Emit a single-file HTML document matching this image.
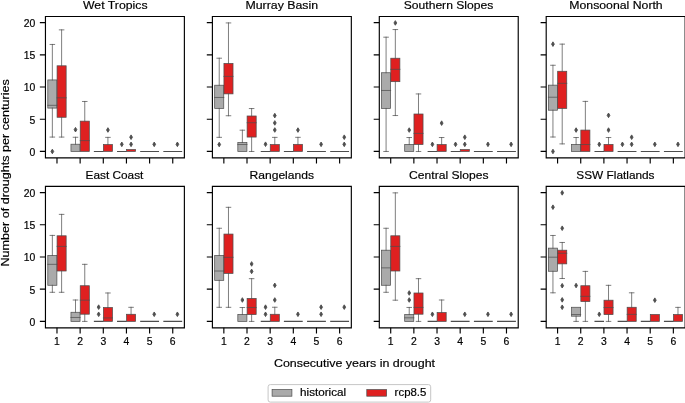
<!DOCTYPE html>
<html><head><meta charset="utf-8"><title>Droughts boxplots</title>
<style>html,body{margin:0;padding:0;background:#fff;}body{width:685px;height:403px;overflow:hidden;}svg{display:block;will-change:transform;font-family:"Liberation Sans",sans-serif;}</style>
</head><body>
<svg width="685" height="403" viewBox="0 0 685 403">
<rect x="0" y="0" width="685" height="403" fill="#fff"/>
<g><rect x="47.81" y="79.94" width="9.08" height="28.15" fill="#aaaaaa" stroke="#4d4d4d" stroke-width="0.72"/><path d="M52.35 149.17L53.73 151.47L52.35 153.77L50.97 151.47Z" fill="#4d4d4d" stroke="#4d4d4d" stroke-width="0.9"/><rect x="57.07" y="65.8" width="9.08" height="51.48" fill="#df2020" stroke="#4d4d4d" stroke-width="0.72"/><rect x="70.96" y="144.21" width="9.08" height="7.26" fill="#aaaaaa" stroke="#4d4d4d" stroke-width="0.72"/><path d="M75.5 127.38L76.88 129.68L75.5 131.98L74.12 129.68Z" fill="#4d4d4d" stroke="#4d4d4d" stroke-width="0.9"/><rect x="80.23" y="121.13" width="9.08" height="30.34" fill="#df2020" stroke="#4d4d4d" stroke-width="0.72"/><rect x="103.38" y="144.53" width="9.08" height="6.94" fill="#df2020" stroke="#4d4d4d" stroke-width="0.72"/><path d="M107.92 127.7L109.3 130L107.92 132.3L106.54 130Z" fill="#4d4d4d" stroke="#4d4d4d" stroke-width="0.9"/><path d="M121.81 142.04L123.19 144.34L121.81 146.64L120.43 144.34Z" fill="#4d4d4d" stroke="#4d4d4d" stroke-width="0.9"/><rect x="126.54" y="149.54" width="9.08" height="1.93" fill="#df2020" stroke="#4d4d4d" stroke-width="0.72"/><path d="M131.07 142.04L132.45 144.34L131.07 146.64L129.69 144.34Z" fill="#4d4d4d" stroke="#4d4d4d" stroke-width="0.9"/><path d="M131.07 134.9L132.45 137.2L131.07 139.5L129.69 137.2Z" fill="#4d4d4d" stroke="#4d4d4d" stroke-width="0.9"/><path d="M154.23 142.04L155.61 144.34L154.23 146.64L152.85 144.34Z" fill="#4d4d4d" stroke="#4d4d4d" stroke-width="0.9"/><path d="M177.38 142.04L178.76 144.34L177.38 146.64L176 144.34Z" fill="#4d4d4d" stroke="#4d4d4d" stroke-width="0.9"/><rect x="214.68" y="85.21" width="9.08" height="23.2" fill="#aaaaaa" stroke="#4d4d4d" stroke-width="0.72"/><path d="M219.22 142.23L220.6 144.53L219.22 146.83L217.84 144.53Z" fill="#4d4d4d" stroke="#4d4d4d" stroke-width="0.9"/><rect x="223.94" y="63.42" width="9.08" height="30.46" fill="#df2020" stroke="#4d4d4d" stroke-width="0.72"/><rect x="237.83" y="142.47" width="9.08" height="9" fill="#aaaaaa" stroke="#4d4d4d" stroke-width="0.72"/><rect x="247.1" y="115.99" width="9.08" height="21.08" fill="#df2020" stroke="#4d4d4d" stroke-width="0.72"/><path d="M265.53 141.91L266.91 144.21L265.53 146.51L264.15 144.21Z" fill="#4d4d4d" stroke="#4d4d4d" stroke-width="0.9"/><rect x="270.25" y="144.53" width="9.08" height="6.94" fill="#df2020" stroke="#4d4d4d" stroke-width="0.72"/><path d="M274.79 127.7L276.17 130L274.79 132.3L273.41 130Z" fill="#4d4d4d" stroke="#4d4d4d" stroke-width="0.9"/><path d="M274.79 120.63L276.17 122.93L274.79 125.23L273.41 122.93Z" fill="#4d4d4d" stroke="#4d4d4d" stroke-width="0.9"/><path d="M274.79 113.31L276.17 115.61L274.79 117.91L273.41 115.61Z" fill="#4d4d4d" stroke="#4d4d4d" stroke-width="0.9"/><rect x="293.41" y="144.34" width="9.08" height="7.13" fill="#df2020" stroke="#4d4d4d" stroke-width="0.72"/><path d="M297.94 127.77L299.32 130.07L297.94 132.37L296.56 130.07Z" fill="#4d4d4d" stroke="#4d4d4d" stroke-width="0.9"/><path d="M321.1 142.04L322.48 144.34L321.1 146.64L319.72 144.34Z" fill="#4d4d4d" stroke="#4d4d4d" stroke-width="0.9"/><path d="M344.25 142.04L345.63 144.34L344.25 146.64L342.87 144.34Z" fill="#4d4d4d" stroke="#4d4d4d" stroke-width="0.9"/><path d="M344.25 134.9L345.63 137.2L344.25 139.5L342.87 137.2Z" fill="#4d4d4d" stroke="#4d4d4d" stroke-width="0.9"/><rect x="381.54" y="72.74" width="9.08" height="35.67" fill="#aaaaaa" stroke="#4d4d4d" stroke-width="0.72"/><rect x="390.8" y="58.21" width="9.08" height="23.46" fill="#df2020" stroke="#4d4d4d" stroke-width="0.72"/><path d="M395.34 20.63L396.72 22.93L395.34 25.23L393.96 22.93Z" fill="#4d4d4d" stroke="#4d4d4d" stroke-width="0.9"/><rect x="404.69" y="144.4" width="9.08" height="7.07" fill="#aaaaaa" stroke="#4d4d4d" stroke-width="0.72"/><path d="M409.23 127.77L410.61 130.07L409.23 132.37L407.85 130.07Z" fill="#4d4d4d" stroke="#4d4d4d" stroke-width="0.9"/><rect x="413.96" y="114" width="9.08" height="30.53" fill="#df2020" stroke="#4d4d4d" stroke-width="0.72"/><path d="M432.39 142.04L433.77 144.34L432.39 146.64L431.01 144.34Z" fill="#4d4d4d" stroke="#4d4d4d" stroke-width="0.9"/><rect x="437.11" y="144.53" width="9.08" height="6.94" fill="#df2020" stroke="#4d4d4d" stroke-width="0.72"/><path d="M441.65 120.83L443.03 123.13L441.65 125.43L440.27 123.13Z" fill="#4d4d4d" stroke="#4d4d4d" stroke-width="0.9"/><path d="M455.54 142.04L456.92 144.34L455.54 146.64L454.16 144.34Z" fill="#4d4d4d" stroke="#4d4d4d" stroke-width="0.9"/><rect x="460.27" y="149.54" width="9.08" height="1.93" fill="#df2020" stroke="#4d4d4d" stroke-width="0.72"/><path d="M464.8 142.04L466.18 144.34L464.8 146.64L463.42 144.34Z" fill="#4d4d4d" stroke="#4d4d4d" stroke-width="0.9"/><path d="M464.8 134.9L466.18 137.2L464.8 139.5L463.42 137.2Z" fill="#4d4d4d" stroke="#4d4d4d" stroke-width="0.9"/><path d="M487.96 142.04L489.34 144.34L487.96 146.64L486.58 144.34Z" fill="#4d4d4d" stroke="#4d4d4d" stroke-width="0.9"/><path d="M511.11 142.04L512.49 144.34L511.11 146.64L509.73 144.34Z" fill="#4d4d4d" stroke="#4d4d4d" stroke-width="0.9"/><rect x="548.41" y="85.14" width="9.08" height="25.07" fill="#aaaaaa" stroke="#4d4d4d" stroke-width="0.72"/><path d="M552.95 149.17L554.33 151.47L552.95 153.77L551.57 151.47Z" fill="#4d4d4d" stroke="#4d4d4d" stroke-width="0.9"/><path d="M552.95 41.84L554.33 44.14L552.95 46.44L551.57 44.14Z" fill="#4d4d4d" stroke="#4d4d4d" stroke-width="0.9"/><rect x="557.67" y="71.26" width="9.08" height="37.15" fill="#df2020" stroke="#4d4d4d" stroke-width="0.72"/><rect x="571.56" y="144.4" width="9.08" height="7.07" fill="#aaaaaa" stroke="#4d4d4d" stroke-width="0.72"/><path d="M576.1 127.77L577.48 130.07L576.1 132.37L574.72 130.07Z" fill="#4d4d4d" stroke="#4d4d4d" stroke-width="0.9"/><rect x="580.83" y="130.07" width="9.08" height="21.4" fill="#df2020" stroke="#4d4d4d" stroke-width="0.72"/><path d="M599.26 142.04L600.64 144.34L599.26 146.64L597.88 144.34Z" fill="#4d4d4d" stroke="#4d4d4d" stroke-width="0.9"/><rect x="603.98" y="144.4" width="9.08" height="7.07" fill="#df2020" stroke="#4d4d4d" stroke-width="0.72"/><path d="M608.52 127.77L609.9 130.07L608.52 132.37L607.14 130.07Z" fill="#4d4d4d" stroke="#4d4d4d" stroke-width="0.9"/><path d="M608.52 113.05L609.9 115.35L608.52 117.65L607.14 115.35Z" fill="#4d4d4d" stroke="#4d4d4d" stroke-width="0.9"/><path d="M622.41 142.04L623.79 144.34L622.41 146.64L621.03 144.34Z" fill="#4d4d4d" stroke="#4d4d4d" stroke-width="0.9"/><path d="M631.67 142.04L633.05 144.34L631.67 146.64L630.29 144.34Z" fill="#4d4d4d" stroke="#4d4d4d" stroke-width="0.9"/><path d="M631.67 134.9L633.05 137.2L631.67 139.5L630.29 137.2Z" fill="#4d4d4d" stroke="#4d4d4d" stroke-width="0.9"/><path d="M654.83 142.04L656.21 144.34L654.83 146.64L653.45 144.34Z" fill="#4d4d4d" stroke="#4d4d4d" stroke-width="0.9"/><path d="M677.98 142.04L679.36 144.34L677.98 146.64L676.6 144.34Z" fill="#4d4d4d" stroke="#4d4d4d" stroke-width="0.9"/><rect x="47.81" y="255.46" width="9.08" height="29.82" fill="#aaaaaa" stroke="#4d4d4d" stroke-width="0.72"/><rect x="57.07" y="235.79" width="9.08" height="35.22" fill="#df2020" stroke="#4d4d4d" stroke-width="0.72"/><rect x="70.96" y="312.27" width="9.08" height="9.13" fill="#aaaaaa" stroke="#4d4d4d" stroke-width="0.72"/><rect x="80.23" y="285.73" width="9.08" height="28.47" fill="#df2020" stroke="#4d4d4d" stroke-width="0.72"/><path d="M98.66 311.97L100.04 314.27L98.66 316.57L97.28 314.27Z" fill="#4d4d4d" stroke="#4d4d4d" stroke-width="0.9"/><path d="M98.66 304.83L100.04 307.13L98.66 309.43L97.28 307.13Z" fill="#4d4d4d" stroke="#4d4d4d" stroke-width="0.9"/><rect x="103.38" y="307.52" width="9.08" height="13.88" fill="#df2020" stroke="#4d4d4d" stroke-width="0.72"/><rect x="126.54" y="314.27" width="9.08" height="7.13" fill="#df2020" stroke="#4d4d4d" stroke-width="0.72"/><path d="M154.23 311.97L155.61 314.27L154.23 316.57L152.85 314.27Z" fill="#4d4d4d" stroke="#4d4d4d" stroke-width="0.9"/><path d="M177.38 311.97L178.76 314.27L177.38 316.57L176 314.27Z" fill="#4d4d4d" stroke="#4d4d4d" stroke-width="0.9"/><rect x="214.68" y="255.46" width="9.08" height="24.87" fill="#aaaaaa" stroke="#4d4d4d" stroke-width="0.72"/><rect x="223.94" y="234.06" width="9.08" height="39.33" fill="#df2020" stroke="#4d4d4d" stroke-width="0.72"/><rect x="237.83" y="314.39" width="9.08" height="7.01" fill="#aaaaaa" stroke="#4d4d4d" stroke-width="0.72"/><path d="M242.37 297.7L243.75 300L242.37 302.3L240.99 300Z" fill="#4d4d4d" stroke="#4d4d4d" stroke-width="0.9"/><rect x="247.1" y="298.39" width="9.08" height="16.2" fill="#df2020" stroke="#4d4d4d" stroke-width="0.72"/><path d="M251.63 269.1L253.01 271.4L251.63 273.7L250.25 271.4Z" fill="#4d4d4d" stroke="#4d4d4d" stroke-width="0.9"/><path d="M251.63 261.64L253.01 263.94L251.63 266.24L250.25 263.94Z" fill="#4d4d4d" stroke="#4d4d4d" stroke-width="0.9"/><path d="M265.53 311.97L266.91 314.27L265.53 316.57L264.15 314.27Z" fill="#4d4d4d" stroke="#4d4d4d" stroke-width="0.9"/><path d="M265.53 304.83L266.91 307.13L265.53 309.43L264.15 307.13Z" fill="#4d4d4d" stroke="#4d4d4d" stroke-width="0.9"/><rect x="270.25" y="314.27" width="9.08" height="7.13" fill="#df2020" stroke="#4d4d4d" stroke-width="0.72"/><path d="M274.79 297.7L276.17 300L274.79 302.3L273.41 300Z" fill="#4d4d4d" stroke="#4d4d4d" stroke-width="0.9"/><path d="M274.79 283.04L276.17 285.34L274.79 287.64L273.41 285.34Z" fill="#4d4d4d" stroke="#4d4d4d" stroke-width="0.9"/><path d="M297.94 311.97L299.32 314.27L297.94 316.57L296.56 314.27Z" fill="#4d4d4d" stroke="#4d4d4d" stroke-width="0.9"/><path d="M321.1 311.97L322.48 314.27L321.1 316.57L319.72 314.27Z" fill="#4d4d4d" stroke="#4d4d4d" stroke-width="0.9"/><path d="M321.1 304.83L322.48 307.13L321.1 309.43L319.72 307.13Z" fill="#4d4d4d" stroke="#4d4d4d" stroke-width="0.9"/><path d="M344.25 304.83L345.63 307.13L344.25 309.43L342.87 307.13Z" fill="#4d4d4d" stroke="#4d4d4d" stroke-width="0.9"/><rect x="381.54" y="250.19" width="9.08" height="35.09" fill="#aaaaaa" stroke="#4d4d4d" stroke-width="0.72"/><rect x="390.8" y="235.79" width="9.08" height="35.22" fill="#df2020" stroke="#4d4d4d" stroke-width="0.72"/><rect x="404.69" y="314.52" width="9.08" height="6.88" fill="#aaaaaa" stroke="#4d4d4d" stroke-width="0.72"/><path d="M409.23 297.7L410.61 300L409.23 302.3L407.85 300Z" fill="#4d4d4d" stroke="#4d4d4d" stroke-width="0.9"/><path d="M409.23 290.69L410.61 292.99L409.23 295.29L407.85 292.99Z" fill="#4d4d4d" stroke="#4d4d4d" stroke-width="0.9"/><rect x="413.96" y="292.99" width="9.08" height="21.21" fill="#df2020" stroke="#4d4d4d" stroke-width="0.72"/><path d="M432.39 311.97L433.77 314.27L432.39 316.57L431.01 314.27Z" fill="#4d4d4d" stroke="#4d4d4d" stroke-width="0.9"/><rect x="437.11" y="312.53" width="9.08" height="8.87" fill="#df2020" stroke="#4d4d4d" stroke-width="0.72"/><path d="M464.8 311.97L466.18 314.27L464.8 316.57L463.42 314.27Z" fill="#4d4d4d" stroke="#4d4d4d" stroke-width="0.9"/><path d="M487.96 311.97L489.34 314.27L487.96 316.57L486.58 314.27Z" fill="#4d4d4d" stroke="#4d4d4d" stroke-width="0.9"/><path d="M511.11 311.97L512.49 314.27L511.11 316.57L509.73 314.27Z" fill="#4d4d4d" stroke="#4d4d4d" stroke-width="0.9"/><rect x="548.41" y="248.13" width="9.08" height="23.14" fill="#aaaaaa" stroke="#4d4d4d" stroke-width="0.72"/><path d="M552.95 204.89L554.33 207.19L552.95 209.49L551.57 207.19Z" fill="#4d4d4d" stroke="#4d4d4d" stroke-width="0.9"/><rect x="557.67" y="250.19" width="9.08" height="13.69" fill="#df2020" stroke="#4d4d4d" stroke-width="0.72"/><path d="M562.21 190.56L563.59 192.86L562.21 195.16L560.83 192.86Z" fill="#4d4d4d" stroke="#4d4d4d" stroke-width="0.9"/><path d="M562.21 225.91L563.59 228.21L562.21 230.51L560.83 228.21Z" fill="#4d4d4d" stroke="#4d4d4d" stroke-width="0.9"/><path d="M562.21 283.43L563.59 285.73L562.21 288.03L560.83 285.73Z" fill="#4d4d4d" stroke="#4d4d4d" stroke-width="0.9"/><path d="M562.21 297.57L563.59 299.87L562.21 302.17L560.83 299.87Z" fill="#4d4d4d" stroke="#4d4d4d" stroke-width="0.9"/><path d="M562.21 304.96L563.59 307.26L562.21 309.56L560.83 307.26Z" fill="#4d4d4d" stroke="#4d4d4d" stroke-width="0.9"/><rect x="571.56" y="307.26" width="9.08" height="8.93" fill="#aaaaaa" stroke="#4d4d4d" stroke-width="0.72"/><path d="M576.1 283.24L577.48 285.54L576.1 287.84L574.72 285.54Z" fill="#4d4d4d" stroke="#4d4d4d" stroke-width="0.9"/><rect x="580.83" y="285.73" width="9.08" height="15.81" fill="#df2020" stroke="#4d4d4d" stroke-width="0.72"/><path d="M599.26 311.97L600.64 314.27L599.26 316.57L597.88 314.27Z" fill="#4d4d4d" stroke="#4d4d4d" stroke-width="0.9"/><rect x="603.98" y="300.19" width="9.08" height="14.4" fill="#df2020" stroke="#4d4d4d" stroke-width="0.72"/><rect x="627.14" y="307.26" width="9.08" height="14.14" fill="#df2020" stroke="#4d4d4d" stroke-width="0.72"/><rect x="650.29" y="314.52" width="9.08" height="6.88" fill="#df2020" stroke="#4d4d4d" stroke-width="0.72"/><path d="M654.83 297.89L656.21 300.19L654.83 302.49L653.45 300.19Z" fill="#4d4d4d" stroke="#4d4d4d" stroke-width="0.9"/><rect x="673.45" y="314.52" width="9.08" height="6.88" fill="#df2020" stroke="#4d4d4d" stroke-width="0.72"/></g>
<path d="M52.35 79.94V44.46M50.08 44.46H54.62M52.35 108.09V137.07M50.08 137.07H54.62M47.81 105.32H56.88M61.61 65.8V29.87M59.34 29.87H63.88M61.61 117.28V137.07M59.34 137.07H63.88M57.07 97.8H66.15M75.5 144.21V137.27M73.23 137.27H77.77M84.76 121.13V101.47M82.49 101.47H87.03M80.23 140.61H89.3M107.92 144.53V137.39M105.65 137.39H110.19M219.22 85.21V58.21M216.95 58.21H221.49M219.22 108.41V137.33M216.95 137.33H221.49M214.68 97.48H223.75M228.48 63.42V22.93M226.21 22.93H230.75M228.48 93.88V115.74M226.21 115.74H230.75M223.94 76.4H233.02M242.37 142.47V130.2M240.1 130.2H244.64M237.83 144.53H246.91M251.63 115.99V108.54M249.36 108.54H253.9M251.63 137.07V151.47M249.36 151.47H253.9M247.1 122.74H256.17M274.79 144.53V137.39M272.52 137.39H277.06M297.94 144.34V137.33M295.67 137.33H300.21M386.08 72.74V37.2M383.81 37.2H388.35M386.08 108.41V151.47M383.81 151.47H388.35M381.54 90.48H390.61M395.34 58.21V29.55M393.07 29.55H397.61M395.34 81.67V115.54M393.07 115.54H397.61M390.8 69.33H399.88M409.23 144.4V137.52M406.96 137.52H411.5M418.49 114V93.95M416.22 93.95H420.76M418.49 144.53V151.47M416.22 151.47H420.76M413.96 133.41H423.03M441.65 144.53V137.52M439.38 137.52H443.92M552.95 85.14V65.28M550.68 65.28H555.22M552.95 110.21V137.01M550.68 137.01H555.22M548.41 97.23H557.48M562.21 71.26V44.14M559.94 44.14H564.48M562.21 108.41V143.89M559.94 143.89H564.48M557.67 83.34H566.75M576.1 144.4V137.52M573.83 137.52H578.37M585.36 130.07V101.4M583.09 101.4H587.63M580.83 144.53H589.9M608.52 144.4V137.52M606.25 137.52H610.79M52.35 255.46V235.41M50.08 235.41H54.62M52.35 285.28V292.29M50.08 292.29H54.62M47.81 264.33H56.88M61.61 235.79V214.39M59.34 214.39H63.88M61.61 271.01V292.29M59.34 292.29H63.88M57.07 246.4H66.15M75.5 312.27V300M73.23 300H77.77M70.96 317.48H80.04M84.76 285.73V264.33M82.49 264.33H87.03M84.76 314.2V321.4M82.49 321.4H87.03M80.23 300.19H89.3M107.92 307.52V292.99M105.65 292.99H110.19M103.38 317.93H112.46M131.07 314.27V307.32M128.8 307.32H133.34M219.22 255.46V228.27M216.95 228.27H221.49M219.22 280.33V307.32M216.95 307.32H221.49M214.68 271.01H223.75M228.48 234.06V207.32M226.21 207.32H230.75M228.48 273.39V307.32M226.21 307.32H230.75M223.94 257.32H233.02M242.37 314.39V307.52M240.1 307.52H244.64M251.63 298.39V278.66M249.36 278.66H253.9M251.63 314.59V321.4M249.36 321.4H253.9M247.1 307.52H256.17M274.79 314.27V307.26M272.52 307.26H277.06M386.08 250.19V228.27M383.81 228.27H388.35M386.08 285.28V292.29M383.81 292.29H388.35M381.54 267.86H390.61M395.34 235.79V192.86M393.07 192.86H397.61M395.34 271.01V300.19M393.07 300.19H397.61M390.8 246.4H399.88M409.23 314.52V307.45M406.96 307.45H411.5M404.69 317.8H413.77M418.49 292.99V278.66M416.22 278.66H420.76M418.49 314.2V321.4M416.22 321.4H420.76M413.96 307.45H423.03M441.65 312.53V300M439.38 300H443.92M552.95 248.13V235.47M550.68 235.47H555.22M552.95 271.27V292.8M550.68 292.8H555.22M548.41 257.19H557.48M562.21 250.19V242.48M559.94 242.48H564.48M562.21 263.88V278.53M559.94 278.53H564.48M557.67 253.27H566.75M576.1 316.19V321.4M573.83 321.4H578.37M571.56 314.52H580.64M585.36 285.73V271.4M583.09 271.4H587.63M585.36 301.54V321.4M583.09 321.4H587.63M580.83 296.33H589.9M608.52 300.19V285.34M606.25 285.34H610.79M608.52 314.59V321.4M606.25 321.4H610.79M603.98 307.52H613.06M631.67 307.26V292.8M629.4 292.8H633.94M627.14 314.39H636.21M677.98 314.52V307.39M675.71 307.39H680.25" fill="none" stroke="#4d4d4d" stroke-width="0.72" stroke-linecap="square"/>
<path d="M93.87 151.47H103.44M117.02 151.47H126.6M140.18 151.47H149.75M149.44 151.47H159.02M163.33 151.47H172.91M172.6 151.47H182.17M260.74 151.47H270.31M283.89 151.47H293.47M307.05 151.47H316.62M316.31 151.47H325.89M330.2 151.47H339.78M339.47 151.47H349.04M427.6 151.47H437.17M450.75 151.47H460.33M473.91 151.47H483.48M483.17 151.47H492.75M497.06 151.47H506.64M506.33 151.47H515.9M594.47 151.47H604.04M617.62 151.47H627.2M626.89 151.47H636.46M640.78 151.47H650.35M650.04 151.47H659.62M663.93 151.47H673.51M673.2 151.47H682.77M93.87 321.4H103.44M117.02 321.4H126.6M140.18 321.4H149.75M149.44 321.4H159.02M163.33 321.4H172.91M172.6 321.4H182.17M260.74 321.4H270.31M283.89 321.4H293.47M293.16 321.4H302.73M307.05 321.4H316.62M316.31 321.4H325.89M330.2 321.4H339.78M339.47 321.4H349.04M427.6 321.4H437.17M450.75 321.4H460.33M460.02 321.4H469.59M473.91 321.4H483.48M483.17 321.4H492.75M497.06 321.4H506.64M506.33 321.4H515.9M594.47 321.4H604.04M617.62 321.4H627.2M640.78 321.4H650.35M663.93 321.4H673.51" fill="none" stroke="#4d4d4d" stroke-width="1.1" stroke-linecap="butt"/>
<path d="M45.45 16.47H184.38V157.9H45.45ZM212.4 16.47H351.33V157.9H212.4ZM379.3 16.47H518.23V157.9H379.3ZM546.2 16.47H685.13V157.9H546.2ZM45.45 186.3H184.38V327.87H45.45ZM212.4 186.3H351.33V327.87H212.4ZM379.3 186.3H518.23V327.87H379.3ZM546.2 186.3H685.13V327.87H546.2Z" fill="none" stroke="#000" stroke-width="1.15" stroke-linecap="square"/>
<path d="M56.98 157.9v5.6M80.13 157.9v5.6M103.29 157.9v5.6M126.44 157.9v5.6M149.6 157.9v5.6M172.75 157.9v5.6M45.45 151.42h-5.6M45.45 119.22h-5.6M45.45 87.02h-5.6M45.45 54.82h-5.6M45.45 22.62h-5.6M223.85 157.9v5.6M247 157.9v5.6M270.16 157.9v5.6M293.31 157.9v5.6M316.47 157.9v5.6M339.62 157.9v5.6M212.4 151.42h-5.6M212.4 119.22h-5.6M212.4 87.02h-5.6M212.4 54.82h-5.6M212.4 22.62h-5.6M390.71 157.9v5.6M413.86 157.9v5.6M437.02 157.9v5.6M460.17 157.9v5.6M483.33 157.9v5.6M506.48 157.9v5.6M379.3 151.42h-5.6M379.3 119.22h-5.6M379.3 87.02h-5.6M379.3 54.82h-5.6M379.3 22.62h-5.6M557.58 157.9v5.6M580.73 157.9v5.6M603.89 157.9v5.6M627.04 157.9v5.6M650.2 157.9v5.6M673.35 157.9v5.6M546.2 151.42h-5.6M546.2 119.22h-5.6M546.2 87.02h-5.6M546.2 54.82h-5.6M546.2 22.62h-5.6M56.98 327.87v5.6M80.13 327.87v5.6M103.29 327.87v5.6M126.44 327.87v5.6M149.6 327.87v5.6M172.75 327.87v5.6M45.45 321.35h-5.6M45.45 289.15h-5.6M45.45 256.95h-5.6M45.45 224.75h-5.6M45.45 192.55h-5.6M223.85 327.87v5.6M247 327.87v5.6M270.16 327.87v5.6M293.31 327.87v5.6M316.47 327.87v5.6M339.62 327.87v5.6M212.4 321.35h-5.6M212.4 289.15h-5.6M212.4 256.95h-5.6M212.4 224.75h-5.6M212.4 192.55h-5.6M390.71 327.87v5.6M413.86 327.87v5.6M437.02 327.87v5.6M460.17 327.87v5.6M483.33 327.87v5.6M506.48 327.87v5.6M379.3 321.35h-5.6M379.3 289.15h-5.6M379.3 256.95h-5.6M379.3 224.75h-5.6M379.3 192.55h-5.6M557.58 327.87v5.6M580.73 327.87v5.6M603.89 327.87v5.6M627.04 327.87v5.6M650.2 327.87v5.6M673.35 327.87v5.6M546.2 321.35h-5.6M546.2 289.15h-5.6M546.2 256.95h-5.6M546.2 224.75h-5.6M546.2 192.55h-5.6" fill="none" stroke="#000" stroke-width="1.15" stroke-linecap="butt"/>
<rect x="268.1" y="384.6" width="162.6" height="17.5" rx="2.2" ry="2.2" fill="#fff" fill-opacity="0.8" stroke="#c6c6c6" stroke-width="1"/>
<rect x="272.1" y="389.6" width="19.8" height="6.6" fill="#aaaaaa" stroke="#4d4d4d" stroke-width="0.72"/>
<rect x="366.8" y="389.6" width="19.8" height="6.6" fill="#df2020" stroke="#4d4d4d" stroke-width="0.72"/>
<g fill="#000" stroke="#000" stroke-width="0.18"><text x="83" y="9.37" font-size="11.6" textLength="64.52" lengthAdjust="spacingAndGlyphs">Wet Tropics</text><text x="245.48" y="9.37" font-size="11.6" textLength="72.63" lengthAdjust="spacingAndGlyphs">Murray Basin</text><text x="403.74" y="9.37" font-size="11.6" textLength="89.57" lengthAdjust="spacingAndGlyphs">Southern Slopes</text><text x="569.29" y="9.37" font-size="11.6" textLength="93.42" lengthAdjust="spacingAndGlyphs">Monsoonal North</text><text x="85.52" y="179.37" font-size="11.6" textLength="57.88" lengthAdjust="spacingAndGlyphs">East Coast</text><text x="249.5" y="179.37" font-size="11.6" textLength="64.52" lengthAdjust="spacingAndGlyphs">Rangelands</text><text x="409.09" y="179.37" font-size="11.6" textLength="79.42" lengthAdjust="spacingAndGlyphs">Central Slopes</text><text x="576.37" y="179.37" font-size="11.6" textLength="78.16" lengthAdjust="spacingAndGlyphs">SSW Flatlands</text><text x="35.2" y="155.82" text-anchor="end" font-size="10.4">0</text><text x="35.2" y="123.62" text-anchor="end" font-size="10.4">5</text><text x="35.2" y="91.42" text-anchor="end" font-size="10.4">10</text><text x="35.2" y="59.22" text-anchor="end" font-size="10.4">15</text><text x="35.2" y="27.02" text-anchor="end" font-size="10.4">20</text><text x="56.98" y="345.2" text-anchor="middle" font-size="10.4">1</text><text x="80.13" y="345.2" text-anchor="middle" font-size="10.4">2</text><text x="103.29" y="345.2" text-anchor="middle" font-size="10.4">3</text><text x="126.44" y="345.2" text-anchor="middle" font-size="10.4">4</text><text x="149.6" y="345.2" text-anchor="middle" font-size="10.4">5</text><text x="172.75" y="345.2" text-anchor="middle" font-size="10.4">6</text><text x="35.2" y="325.75" text-anchor="end" font-size="10.4">0</text><text x="35.2" y="293.55" text-anchor="end" font-size="10.4">5</text><text x="35.2" y="261.35" text-anchor="end" font-size="10.4">10</text><text x="35.2" y="229.15" text-anchor="end" font-size="10.4">15</text><text x="35.2" y="196.95" text-anchor="end" font-size="10.4">20</text><text x="223.85" y="345.2" text-anchor="middle" font-size="10.4">1</text><text x="247" y="345.2" text-anchor="middle" font-size="10.4">2</text><text x="270.16" y="345.2" text-anchor="middle" font-size="10.4">3</text><text x="293.31" y="345.2" text-anchor="middle" font-size="10.4">4</text><text x="316.47" y="345.2" text-anchor="middle" font-size="10.4">5</text><text x="339.62" y="345.2" text-anchor="middle" font-size="10.4">6</text><text x="390.71" y="345.2" text-anchor="middle" font-size="10.4">1</text><text x="413.86" y="345.2" text-anchor="middle" font-size="10.4">2</text><text x="437.02" y="345.2" text-anchor="middle" font-size="10.4">3</text><text x="460.17" y="345.2" text-anchor="middle" font-size="10.4">4</text><text x="483.33" y="345.2" text-anchor="middle" font-size="10.4">5</text><text x="506.48" y="345.2" text-anchor="middle" font-size="10.4">6</text><text x="557.58" y="345.2" text-anchor="middle" font-size="10.4">1</text><text x="580.73" y="345.2" text-anchor="middle" font-size="10.4">2</text><text x="603.89" y="345.2" text-anchor="middle" font-size="10.4">3</text><text x="627.04" y="345.2" text-anchor="middle" font-size="10.4">4</text><text x="650.2" y="345.2" text-anchor="middle" font-size="10.4">5</text><text x="673.35" y="345.2" text-anchor="middle" font-size="10.4">6</text><text x="273.92" y="367.3" font-size="11.6" textLength="161.17" lengthAdjust="spacingAndGlyphs">Consecutive years in drought</text><text transform="translate(8.55 266.54) rotate(-90)" x="0" y="0" font-size="11.6" textLength="187.34" lengthAdjust="spacingAndGlyphs">Number of droughts per centuries</text><text x="300.08" y="396.4" font-size="10.4" textLength="46.04" lengthAdjust="spacingAndGlyphs">historical</text><text x="394.63" y="396.4" font-size="10.4" textLength="31.75" lengthAdjust="spacingAndGlyphs">rcp8.5</text></g>
</svg></body></html>
